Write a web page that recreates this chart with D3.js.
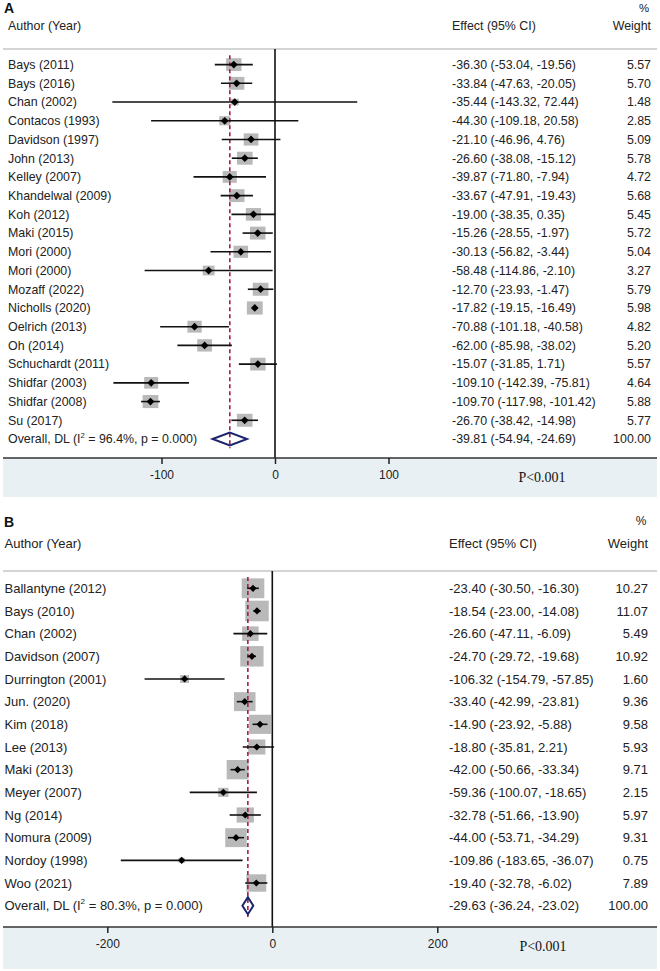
<!DOCTYPE html>
<html><head><meta charset="utf-8">
<script src="https://cdn.jsdelivr.net/npm/d3@7"></script>
<style>body{margin:0;background:#fff}svg{display:block}</style>
</head><body>
<script>
// ---------- Panel A data ----------
const studiesA = ["Bays (2011)","Bays (2016)","Chan (2002)","Contacos (1993)","Davidson (1997)","John (2013)","Kelley (2007)","Khandelwal (2009)","Koh (2012)","Maki (2015)","Mori (2000)","Mori (2000)","Mozaff (2022)","Nicholls (2020)","Oelrich (2013)","Oh (2014)","Schuchardt (2011)","Shidfar (2003)","Shidfar (2008)","Su (2017)"];
const effectA = [-36.30,-33.84,-35.44,-44.30,-21.10,-26.60,-39.87,-33.67,-19.00,-15.26,-30.13,-58.48,-12.70,-17.82,-70.88,-62.00,-15.07,-109.10,-109.70,-26.70];
const lowerA  = [-53.04,-47.63,-143.32,-109.18,-46.96,-38.08,-71.80,-47.91,-38.35,-28.55,-56.82,-114.86,-23.93,-19.15,-101.18,-85.98,-31.85,-142.39,-117.98,-38.42];
const upperA  = [-19.56,-20.05,72.44,20.58,4.76,-15.12,-7.94,-19.43,0.35,-1.97,-3.44,-2.10,-1.47,-16.49,-40.58,-38.02,1.71,-75.81,-101.42,-14.98];
const weightA = [5.57,5.70,1.48,2.85,5.09,5.78,4.72,5.68,5.45,5.72,5.04,3.27,5.79,5.98,4.82,5.20,5.57,4.64,5.88,5.77];
const overallA = {label:"Overall, DL (I", i2:"96.4%", p:"0.000", effect:-39.81, lower:-54.94, upper:-24.69, weight:100.00};
const ticksA = [-100, 0, 100];

// ---------- Panel B data ----------
const studiesB = ["Ballantyne (2012)","Bays (2010)","Chan (2002)","Davidson (2007)","Durrington (2001)","Jun. (2020)","Kim (2018)","Lee (2013)","Maki (2013)","Meyer (2007)","Ng (2014)","Nomura (2009)","Nordoy (1998)","Woo (2021)"];
const effectB = [-23.40,-18.54,-26.60,-24.70,-106.32,-33.40,-14.90,-18.80,-42.00,-59.36,-32.78,-44.00,-109.86,-19.40];
const lowerB  = [-30.50,-23.00,-47.11,-29.72,-154.79,-42.99,-23.92,-35.81,-50.66,-100.07,-51.66,-53.71,-183.65,-32.78];
const upperB  = [-16.30,-14.08,-6.09,-19.68,-57.85,-23.81,-5.88,2.21,-33.34,-18.65,-13.90,-34.29,-36.07,-6.02];
const weightB = [10.27,11.07,5.49,10.92,1.60,9.36,9.58,5.93,9.71,2.15,5.97,9.31,0.75,7.89];
const overallB = {label:"Overall, DL (I", i2:"80.3%", p:"0.000", effect:-29.63, lower:-36.24, upper:-23.02, weight:100.00};
const ticksB = [-200, 0, 200];

const pText = "P<0.001";

const W = 660, H = 971;
const svg = d3.select("body").append("svg").attr("width", W).attr("height", H);
svg.append("rect").attr("width", W).attr("height", H).attr("fill", "#fff");

const FONT = "'Liberation Sans', Arial, Helvetica, sans-serif";
const loc = d3.formatLocale({decimal:".", thousands:",", grouping:[3], currency:["",""], minus:"-"});
const f2 = loc.format(".2f");
const fd = loc.format("d");

function drawPanel(o) {
  const g = svg.append("g");
  const n = o.studies.length;
  const x = d3.scaleLinear().domain(o.domain).range(o.range);
  const y = d3.scaleLinear().domain([0, n]).range([o.rowTop, o.rowTop + n * o.step]);

  // shaded axis band
  g.append("rect").attr("x", 3).attr("y", o.axisY).attr("width", 654)
    .attr("height", o.bandBottom - o.axisY).attr("fill", "#e9f0f3");

  // headers
  g.append("text").attr("x", 4).attr("y", o.letterY).attr("dy", "0.35em")
    .attr("font-family", FONT).attr("font-weight", "bold").attr("font-size", 14)
    .attr("fill", "#111").text(o.letter);
  g.append("text").attr("x", o.labelX).attr("y", o.headY).attr("dy", "0.35em")
    .attr("font-family", FONT).attr("font-size", o.fs).attr("fill", "#222").text("Author (Year)");
  g.append("text").attr("x", o.effX).attr("y", o.headY).attr("dy", "0.35em")
    .attr("font-family", FONT).attr("font-size", o.fs).attr("fill", "#222").text("Effect (95% CI)");
  g.append("text").attr("x", o.wX).attr("y", o.headY).attr("dy", "0.35em").attr("text-anchor", "end")
    .attr("font-family", FONT).attr("font-size", o.fs).attr("fill", "#222").text("Weight");
  g.append("text").attr("x", o.wX - 7).attr("y", o.pctY).attr("dy", "0.35em").attr("text-anchor", "middle")
    .attr("font-family", FONT).attr("font-size", o.fs - 1).attr("fill", "#222").text("%");

  // divider
  g.append("line").attr("x1", 3).attr("x2", 657).attr("y1", o.divY).attr("y2", o.divY)
    .attr("stroke", "#aaa").attr("stroke-width", 1.2);

  // zero line
  g.append("line").attr("x1", x(0)).attr("x2", x(0)).attr("y1", o.divY).attr("y2", o.axisY)
    .attr("stroke", "#111").attr("stroke-width", 1.6);

  // boxes
  const rows = o.studies.map((s, i) => ({s, e:o.effect[i], lo:o.lower[i], hi:o.upper[i], w:o.weight[i], i}));
  g.selectAll("rect.box").data(rows).join("rect").attr("class", "box")
    .attr("x", d => x(d.e) - o.kx * Math.sqrt(d.w) / 2)
    .attr("y", d => y(d.i) - o.ky * Math.sqrt(d.w) / 2)
    .attr("width", d => o.kx * Math.sqrt(d.w))
    .attr("height", d => o.ky * Math.sqrt(d.w))
    .attr("fill", "#b9b9b9");

  // overall dashed line
  g.append("line").attr("x1", x(o.overall.effect)).attr("x2", x(o.overall.effect))
    .attr("y1", y(0) - o.step / 2).attr("y2", y(n) + o.step / 2)
    .attr("stroke", "#a3203a").attr("stroke-width", 1.6).attr("stroke-dasharray", "4,3");

  // CI lines
  g.selectAll("line.ci").data(rows).join("line").attr("class", "ci")
    .attr("x1", d => x(d.lo)).attr("x2", d => x(d.hi))
    .attr("y1", d => y(d.i)).attr("y2", d => y(d.i))
    .attr("stroke", "#111").attr("stroke-width", 1.6);

  // points (small filled diamonds)
  g.selectAll("path.pt").data(rows).join("path").attr("class", "pt")
    .attr("transform", d => `translate(${x(d.e)},${y(d.i)}) rotate(45)`)
    .attr("d", d3.symbol().type(d3.symbolSquare).size(o.ptSize))
    .attr("fill", "#000");

  // overall diamond
  const oy = y(n), hh = o.diamondH;
  const ov = o.overall;
  g.append("path")
    .attr("d", `M${x(ov.lower)},${oy} L${x(ov.effect)},${oy - hh} L${x(ov.upper)},${oy} L${x(ov.effect)},${oy + hh} Z`)
    .attr("fill", "none").attr("stroke", "#1c2370").attr("stroke-width", 2);

  // labels
  g.selectAll("text.lab").data(rows).join("text").attr("class", "lab")
    .attr("x", o.labelX).attr("y", d => y(d.i)).attr("dy", "0.35em")
    .attr("font-family", FONT).attr("font-size", o.fs).attr("fill", "#222").text(d => d.s);
  g.selectAll("text.eff").data(rows).join("text").attr("class", "eff")
    .attr("x", o.effX).attr("y", d => y(d.i)).attr("dy", "0.35em")
    .attr("font-family", FONT).attr("font-size", o.fs).attr("fill", "#222")
    .text(d => `${f2(d.e)} (${f2(d.lo)}, ${f2(d.hi)})`);
  g.selectAll("text.wt").data(rows).join("text").attr("class", "wt")
    .attr("x", o.wX).attr("y", d => y(d.i)).attr("dy", "0.35em").attr("text-anchor", "end")
    .attr("font-family", FONT).attr("font-size", o.fs).attr("fill", "#222")
    .text(d => f2(d.w));

  // overall row text
  const ot = g.append("text").attr("x", o.labelX).attr("y", oy).attr("dy", "0.35em")
    .attr("font-family", FONT).attr("font-size", o.fs).attr("fill", "#222");
  ot.append("tspan").text(ov.label);
  ot.append("tspan").attr("font-size", o.fs * 0.62).attr("dy", "-0.75em").text("2");
  ot.append("tspan").attr("dy", "0.465em").text(` = ${ov.i2}, p = ${ov.p})`);
  g.append("text").attr("x", o.effX).attr("y", oy).attr("dy", "0.35em")
    .attr("font-family", FONT).attr("font-size", o.fs).attr("fill", "#222")
    .text(`${f2(ov.effect)} (${f2(ov.lower)}, ${f2(ov.upper)})`);
  g.append("text").attr("x", o.wX).attr("y", oy).attr("dy", "0.35em").attr("text-anchor", "end")
    .attr("font-family", FONT).attr("font-size", o.fs).attr("fill", "#222").text(f2(ov.weight));

  // axis
  g.append("line").attr("x1", 3).attr("x2", 657).attr("y1", o.axisY).attr("y2", o.axisY)
    .attr("stroke", "#333").attr("stroke-width", 1.5);
  const ax = g.append("g").attr("transform", `translate(0,${o.axisY})`)
    .call(d3.axisBottom(x).tickValues(o.ticks).tickSize(6).tickPadding(6).tickFormat(fd));
  ax.select(".domain").remove();
  ax.selectAll(".tick line").attr("stroke", "#222").attr("stroke-width", 1.5);
  ax.selectAll(".tick text").attr("font-family", FONT).attr("font-size", 12).attr("fill", "#222");

  g.append("text").attr("x", o.pX).attr("y", o.tickLabY).attr("dy", "0.35em").attr("text-anchor", "middle")
    .attr("font-family", "'Liberation Serif', 'Times New Roman', serif").attr("font-size", 14)
    .attr("fill", "#111").text(pText);
}

drawPanel({
  letter:"A", studies:studiesA, effect:effectA, lower:lowerA, upper:upperA, weight:weightA, overall:overallA, ticks:ticksA,
  domain:[-100, 100], range:[161.5, 388.5],
  rowTop:64.6, step:18.72, letterY:8, headY:26, pctY:8, divY:49, axisY:458, bandBottom:497, tickLabY:477,
  labelX:8, effX:452, wX:651, fs:12.4, kx:6.5, ky:5.4, ptSize:30, diamondH:6.5, pX:542
});

drawPanel({
  letter:"B", studies:studiesB, effect:effectB, lower:lowerB, upper:upperB, weight:weightB, overall:overallB, ticks:ticksB,
  domain:[-200, 200], range:[107.3, 437.3],
  rowTop:588.3, step:22.67, letterY:522, headY:543, pctY:521, divY:571, axisY:927, bandBottom:969, tickLabY:946,
  labelX:4.5, effX:449, wX:648, fs:13, kx:7.05, ky:6.2, ptSize:26, diamondH:8.5, pX:543
});
</script>
</body></html>
